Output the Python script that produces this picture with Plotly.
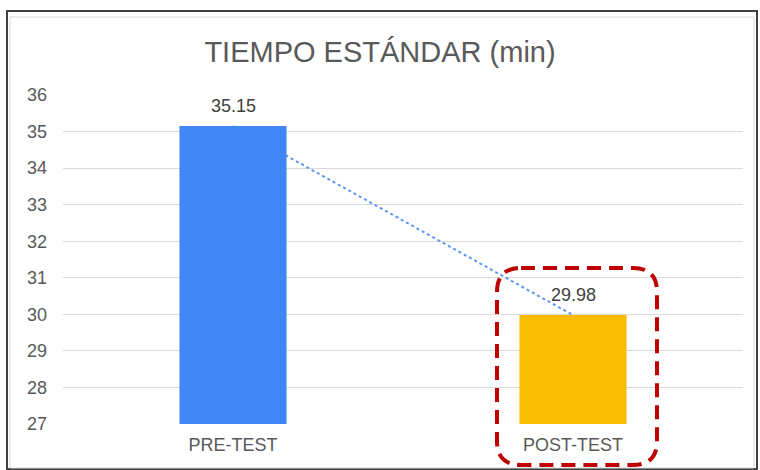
import plotly.graph_objects as go

categories = ["PRE-TEST", "POST-TEST"]
values = [35.15, 29.98]
bar_colors = ["#4285F4", "#FBBC04"]
y_ticks = [27, 28, 29, 30, 31, 32, 33, 34, 35, 36]

W, H = 760, 470
L, R, T, B = 63, 17, 95, 46


def px_x(x):
    return (x - L) / (W - L - R)


def px_y(y):
    return (H - B - y) / (H - T - B)


def rounded_rect(x0, y0, x1, y1, r):
    # pixel box -> paper path with rounded corners
    a, b = px_x(x0), px_x(x1)
    top, bot = px_y(y0), px_y(y1)
    rx = r / (W - L - R)
    ry = r / (H - T - B)
    return (
        f"M {a+rx},{top} L {b-rx},{top} Q {b},{top} {b},{top-ry} "
        f"L {b},{bot+ry} Q {b},{bot} {b-rx},{bot} "
        f"L {a+rx},{bot} Q {a},{bot} {a},{bot+ry} "
        f"L {a},{top-ry} Q {a},{top} {a+rx},{top} Z"
    )


fig = go.Figure()

fig.add_trace(go.Bar(
    x=categories,
    y=values,
    marker=dict(color=bar_colors, line=dict(width=0)),
    width=0.315,
    hoverinfo="x+y",
    showlegend=False
))

for cat, v in zip(categories, values):
    fig.add_annotation(
        x=cat, y=v,
        text=f"{v:.2f}",
        showarrow=False,
        yanchor="middle",
        yshift=20,
        font=dict(size=18, color="#404040")
    )

fig.update_layout(
    width=W,
    height=H,
    margin=dict(l=L, r=R, t=T, b=B),
    paper_bgcolor="white",
    plot_bgcolor="white",
    font=dict(family="Liberation Sans, Arial, sans-serif", color="#595959", size=18),
    title=dict(
        text="TIEMPO ESTÁNDAR (min)",
        x=0.5,
        xanchor="center",
        y=1 - 52 / H,
        yanchor="middle",
        font=dict(size=29, color="#595959")
    ),
    xaxis=dict(
        showgrid=False,
        showline=False,
        ticks="",
        ticklabelstandoff=8,
        tickfont=dict(size=18, color="#595959"),
        range=[-0.5, 1.5]
    ),
    yaxis=dict(
        range=[27, 36],
        tickvals=y_ticks,
        showgrid=True,
        gridcolor="#D9D9D9",
        gridwidth=1,
        zeroline=False,
        showline=False,
        ticks="",
        ticklabelstandoff=15,
        tickfont=dict(size=18, color="#595959")
    ),
    shapes=[
        # trend line, kept behind the bars
        dict(type="line", xref="x", yref="y", layer="between",
             x0=categories[0], y0=values[0], x1=categories[1], y1=values[1],
             line=dict(color="#5B95F5", width=2, dash="dot")),
        dict(type="rect", xref="paper", yref="paper",
             x0=px_x(7), x1=px_x(757), y0=px_y(469), y1=px_y(11),
             line=dict(color="#404040", width=2), layer="below"),
        dict(type="rect", xref="paper", yref="paper",
             x0=px_x(10), x1=px_x(754), y0=px_y(468), y1=px_y(17),
             line=dict(color="#D9D9D9", width=1), layer="below"),
        dict(type="path", xref="paper", yref="paper",
             path=rounded_rect(497, 268, 657, 465, 24),
             line=dict(color="#C00000", width=4, dash="14px,8px"))
    ]
)

fig.write_html(
    "out.html",
    config={"displayModeBar": False},
    post_script="document.body.style.margin='0';"
)
